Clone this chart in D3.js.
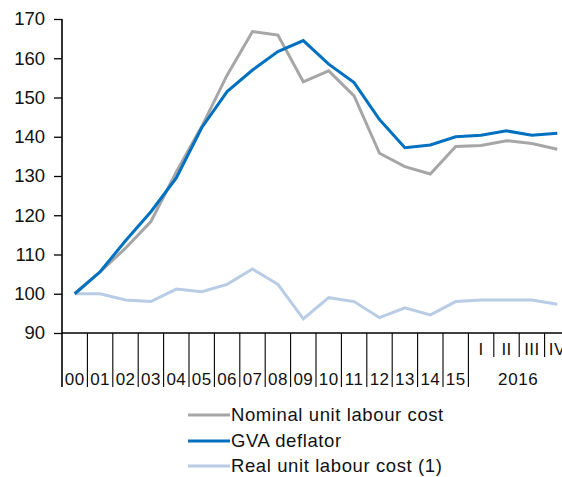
<!DOCTYPE html>
<html><head><meta charset="utf-8">
<script src="https://cdn.jsdelivr.net/npm/d3@7"></script>
<style>
body{margin:0;background:#fff;}
svg{display:block;font-family:"Liberation Sans",Arial,sans-serif;}
</style></head>
<body>
<svg id="c" width="562" height="477"></svg>
<script>
const categories = ["00","01","02","03","04","05","06","07","08","09","10","11","12","13","14","15","I","II","III","IV"];
const groupLabel = "2016";
const yearCount = 16;
const nominalULC = [100,105.6,111.6,118.4,131,142.6,155.7,166.8,165.9,154.0,156.8,150.4,135.8,132.4,130.5,137.5,137.8,139.0,138.3,136.8];
const gvaDeflator = [100,105.6,113.5,120.9,129.5,142.3,151.5,157.0,161.7,164.5,158.5,153.8,144.4,137.2,137.9,140.0,140.4,141.5,140.4,140.9];
const realULC = [100,100,98.4,98.0,101.2,100.5,102.4,106.3,102.4,93.6,99.0,98.0,93.9,96.4,94.6,98.0,98.4,98.4,98.4,97.3];
const yTicks = [90,100,110,120,130,140,150,160,170];
const seriesNames = ["Nominal unit labour cost","GVA deflator","Real unit labour cost (1)"];
const seriesColors = ["#A6A6A6","#0070C0","#B8CCE6"];

const svg = d3.select("#c");
const mLeft = 62, mTop = 19, mBottom = 333, band = 25.4;
const x = d3.scaleBand().domain(categories).range([mLeft, mLeft + band*categories.length]).padding(0);
const y = d3.scaleLinear().domain([90,170]).range([mBottom, mTop]);

// y axis
const ya = svg.append("g").attr("transform",`translate(${mLeft},0)`)
  .call(d3.axisLeft(y).tickValues(yTicks).tickSize(8).tickPadding(9).tickFormat(d3.format("d")));
ya.select(".domain").remove();
ya.selectAll("line").attr("stroke","#000").attr("stroke-width",1.3);
ya.selectAll("text").attr("font-size","18.5px").attr("fill","#111").attr("font-family","Liberation Sans, Arial, sans-serif");
svg.append("line").attr("x1",mLeft).attr("x2",mLeft).attr("y1",mTop).attr("y2",387).attr("stroke","#000").attr("stroke-width",1.6);

// x axis line
svg.append("line").attr("x1",mLeft).attr("x2",x.range()[1]).attr("y1",mBottom).attr("y2",mBottom).attr("stroke","#000").attr("stroke-width",1.6);

// separators
categories.forEach((c,i)=>{
  if(i===0) return;
  const xx = x(c);
  const longTick = i <= yearCount;
  svg.append("line").attr("x1",xx).attr("x2",xx).attr("y1",mBottom).attr("y2",longTick?387:357)
    .attr("stroke","#000").attr("stroke-width",1.1);
});
svg.append("line").attr("x1",x.range()[1]).attr("x2",x.range()[1]).attr("y1",mBottom).attr("y2",387).attr("stroke","#000").attr("stroke-width",1.1);

// labels
categories.forEach((c,i)=>{
  const cx = x(c) + x.bandwidth()/2;
  svg.append("text").attr("x",cx).attr("y", i < yearCount ? 385 : 355)
    .attr("text-anchor","middle").attr("font-size","17px").attr("letter-spacing","0.4px")
    .attr("fill","#111").text(c);
});
const qStart = x(categories[yearCount]), qEnd = x.range()[1];
svg.append("text").attr("x",(qStart+qEnd)/2 - 1).attr("y",385).attr("text-anchor","middle")
  .attr("font-size","17px").attr("letter-spacing","0.6px").attr("fill","#111").text(groupLabel);

// lines
const line = d3.line().x((d,i)=>x(categories[i])+x.bandwidth()/2).y(d=>y(d));
const allSeries = [realULC, nominalULC, gvaDeflator];
const colorsFor = [seriesColors[2], seriesColors[0], seriesColors[1]];
allSeries.forEach((s,k)=>{
  svg.append("path").datum(s).attr("d",line).attr("fill","none")
    .attr("stroke",colorsFor[k]).attr("stroke-width",3).attr("stroke-linejoin","miter");
});

// legend
const legY = [415, 441, 466];
seriesNames.forEach((n,i)=>{
  svg.append("line").attr("x1",188).attr("x2",230).attr("y1",legY[i]).attr("y2",legY[i])
    .attr("stroke",seriesColors[i]).attr("stroke-width",3);
  svg.append("text").attr("x",231).attr("y",legY[i]).attr("dy","0.35em")
    .attr("font-size","18.5px").attr("letter-spacing","0.6px").attr("fill","#111").text(n);
});
</script>
</body></html>
